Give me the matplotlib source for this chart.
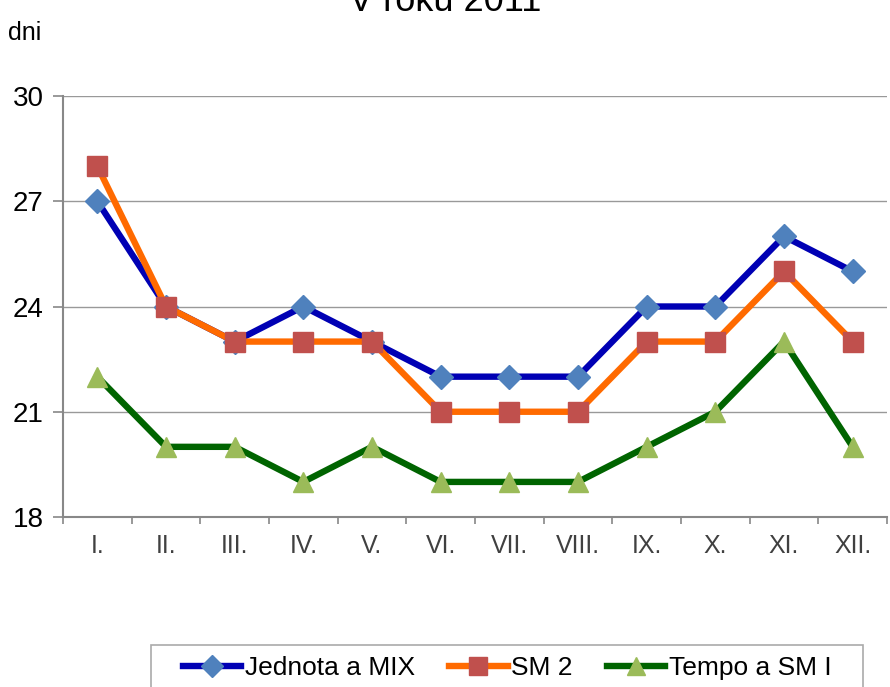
import matplotlib.pyplot as plt
from matplotlib.patches import Rectangle
from matplotlib.ticker import FixedLocator

plt.rcParams['font.family'] = ['Liberation Sans', 'DejaVu Sans']

# Data
months = ['I.', 'II.', 'III.', 'IV.', 'V.', 'VI.', 'VII.', 'VIII.', 'IX.', 'X.', 'XI.', 'XII.']
jednota = [27, 24, 23, 24, 23, 22, 22, 22, 24, 24, 26, 25]
sm2 = [28, 24, 23, 23, 23, 21, 21, 21, 23, 23, 25, 23]
tempo = [22, 20, 20, 19, 20, 19, 19, 19, 20, 21, 23, 20]

W, H = 890, 687
fig = plt.figure(figsize=(W / 100, H / 100), dpi=100)
ax = fig.add_axes([63 / W, 1 - 517 / H, (887 - 63) / W, (517 - 96) / H])

x = range(len(months))
ax.plot(x, jednota, color='#0000B4', lw=4.6, marker='D', ms=12,
        mfc='#4F81BD', mec='#4F81BD', label='Jednota a MIX', zorder=3)
ax.plot(x, sm2, color='#FF6A00', lw=4.6, marker='s', ms=15,
        mfc='#C0504D', mec='#C0504D', label='SM 2', zorder=3)
ax.plot(x, tempo, color='#006400', lw=4.6, marker='^', ms=15,
        mfc='#9BBB59', mec='#9BBB59', label='Tempo a SM I', zorder=3)

ax.set_xlim(-0.5, len(months) - 0.5)
ax.set_ylim(18, 30)
ax.set_yticks([18, 21, 24, 27, 30])
ax.set_xticks(list(x))
ax.set_xticklabels(months, fontsize=18, color='#404040')
ax.xaxis.set_minor_locator(FixedLocator([i - 0.5 for i in range(len(months) + 1)]))
ax.tick_params(axis='x', which='major', length=0, pad=12)
ax.tick_params(axis='x', which='minor', length=5, color='#888888', width=1.2)
ax.tick_params(axis='y', length=7, color='#888888', width=1.2, labelsize=20, pad=7)

ax.grid(axis='y', color='#999999', lw=1)
ax.set_axisbelow(True)
for s in ['top', 'right']:
    ax.spines[s].set_visible(False)
for s in ['left', 'bottom']:
    ax.spines[s].set_color('#888888')
    ax.spines[s].set_linewidth(1.5)

fig.text(8 / W, 1 - 33 / H, 'dni', fontsize=18, ha='left', va='center')
fig.text(0.5, 1 - 11 / H, 'V roku 2011', fontsize=26, ha='center', va='baseline')

# legend box, partly cut off at the bottom of the picture
fig.patches.append(Rectangle((151 / W, -0.02), (863 - 151) / W, 0.02 + (H - 645) / H,
                             transform=fig.transFigure, fill=False,
                             edgecolor='#aaaaaa', lw=1.2, clip_on=False))
fig.legend(loc='upper left', bbox_to_anchor=(183 / W, 1 - 656 / H), ncol=3,
           fontsize=19, frameon=False, handlelength=2.2, handletextpad=0.15,
           columnspacing=1.3, borderpad=0, borderaxespad=0, markerscale=0.9)

fig.savefig('out.png', dpi=100)
